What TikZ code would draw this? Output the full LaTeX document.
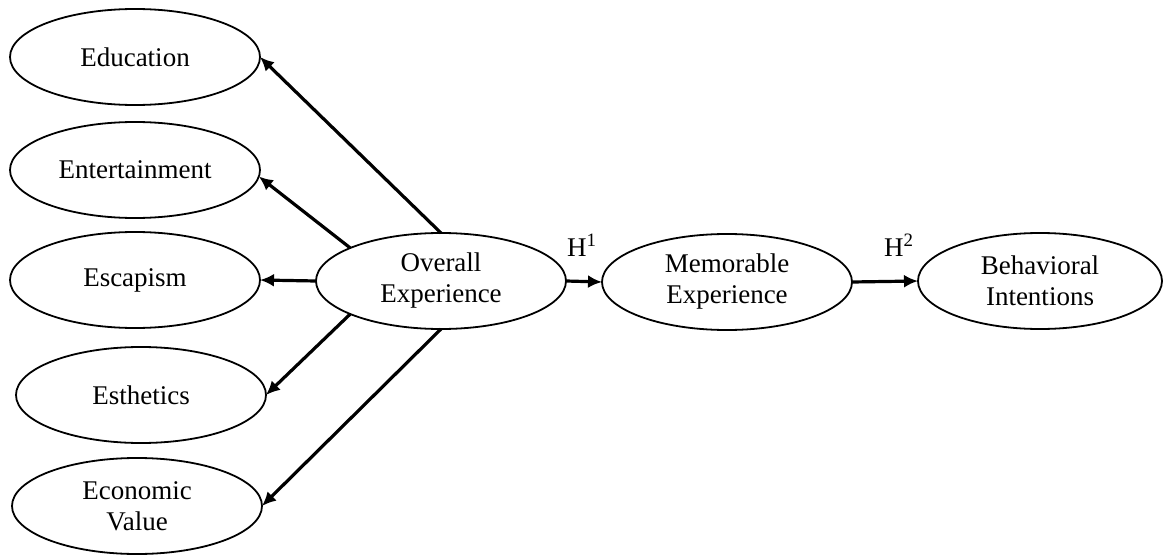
\documentclass[tikz,border=0pt]{standalone}
\usepackage{fontspec}
\setmainfont{Liberation Serif}
\usetikzlibrary{shapes.geometric,arrows.meta}
\begin{document}
\begin{tikzpicture}[x=0.5pt,y=-0.5pt,
  construct/.style={draw, ellipse, line width=0.9pt, inner sep=0pt, outer sep=0pt,
    minimum width=125pt, minimum height=48pt, align=center,
    font=\fontsize{13.5}{15.5}\selectfont},
  path/.style={line width=1.6pt, -{Latex[length=7pt,width=6.5pt]}},
  hyp/.style={font=\fontsize{13.5}{15.5}\selectfont, inner sep=0pt}]
\useasboundingbox (0,0) rectangle (1164,557);
\node[construct] (edu) at (135,57) {Education};
\node[construct] (ent) at (135,170) {Entertainment};
\node[construct] (esc) at (135,280) {Escapism};
\node[construct] (est) at (141,395) {Esthetics};
\node[construct] (eco) at (137,506) {Economic\\Value};
\node[construct] (ov) at (441,281) {Overall\\Experience};
\node[construct] (mem) at (727,282) {Memorable\\Experience};
\node[construct, minimum width=122pt] (beh) at (1040,281) {Behavioral\\Intentions};
\draw[path] (ov.north) -- (edu.east);
\draw[path] (ov.160) -- (ent.-3);
\draw[path] (ov.west) -- (esc.east);
\draw[path] (ov.200) -- (est.east);
\draw[path] (ov.south) -- (eco.east);
\draw[path] (ov.east) -- (mem.west);
\draw[path] (mem.east) -- (beh.west);
\node[hyp] (h1) at (582,245) {H\textsuperscript{1}};
\node[hyp] (h2) at (899,245) {H\textsuperscript{2}};
\end{tikzpicture}
\end{document}
